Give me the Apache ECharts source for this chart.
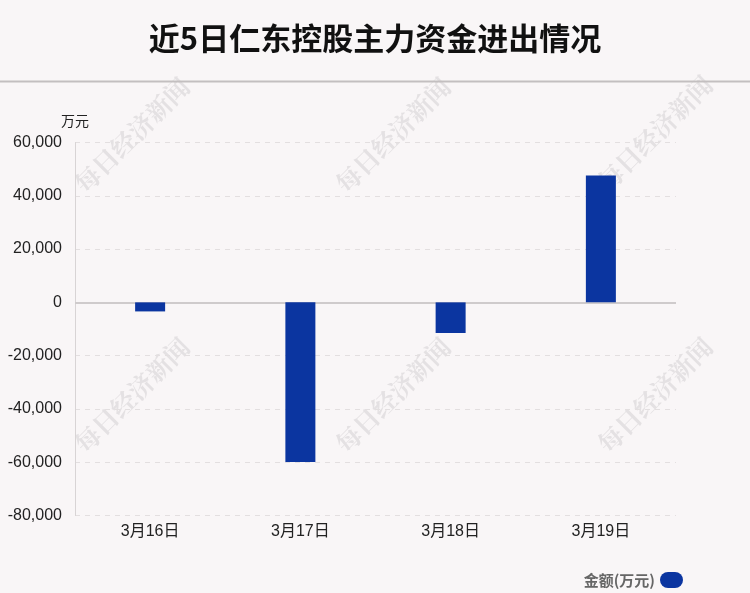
<!DOCTYPE html>
<html>
<head>
<meta charset="utf-8">
<script src="https://cdn.jsdelivr.net/npm/echarts@6/dist/echarts.min.js"></script>
<style>
html,body{margin:0;padding:0;background:#f9f6f7;}
#c{width:750px;height:593px;}
</style>
</head>
<body>
<div id="c"></div>
<script>
var titleText = '近5日仁东控股主力资金进出情况';
var categories = ['3月16日', '3月17日', '3月18日', '3月19日'];
var values = [-3400, -59900, -11500, 47600];
var seriesName = '金额(万元)';
var unitName = '万元';
var yMin = -80000, yMax = 60000, yStep = 20000;
var watermark = '每日经济新闻';

var chart = echarts.init(document.getElementById('c'), null, {renderer: 'canvas'});
var wmPos = [[132, 135], [393, 135], [655, 133], [132, 395], [393, 395], [655, 395]];
var graphics = wmPos.map(function (p) {
  return {
    type: 'text', x: p[0], y: p[1], rotation: Math.PI / 4, z: 0, silent: true,
    style: {
      text: watermark, fill: 'rgba(190,186,188,0.35)',
      font: 'bold 25px "Noto Serif CJK SC", "Noto Sans CJK SC"', textAlign: 'center', textVerticalAlign: 'middle'
    }
  };
});
graphics.push({
  type: 'line', z: 1, silent: true,
  shape: {x1: 0, y1: 81.5, x2: 750, y2: 81.5},
  style: {stroke: '#c3bfc0', lineWidth: 2}
});

chart.setOption({
  backgroundColor: '#f9f6f7',
  animation: false,
  title: {
    text: titleText, left: 'center', top: 18,
    textStyle: {fontSize: 31, fontWeight: 'bold', color: '#111', fontFamily: '"Noto Sans CJK SC", sans-serif'}
  },
  graphic: graphics,
  legend: {
    data: [seriesName], right: 62, top: 567, align: 'right',
    itemWidth: 23, itemHeight: 16,
    icon: 'path://M8,0 H15 A8,8 0 0 1 15,16 H8 A8,8 0 0 1 8,0 Z',
    textStyle: {fontSize: 15, fontWeight: 'bold', color: '#666', fontFamily: '"Noto Sans CJK SC", sans-serif'}
  },
  grid: {left: 75, right: 74, top: 142.5, bottom: 77.5, containLabel: false},
  xAxis: {
    type: 'category', data: categories,
    axisLine: {show: false}, axisTick: {show: false},
    axisLabel: {fontSize: 16, color: '#222', margin: 8, fontFamily: 'Liberation Sans, "Noto Sans CJK SC", sans-serif'}
  },
  yAxis: {
    type: 'value', min: yMin, max: yMax, interval: yStep,
    name: unitName, nameGap: 15,
    nameTextStyle: {fontSize: 14, color: '#222', align: 'center', fontFamily: '"Noto Sans CJK SC", sans-serif'},
    axisLine: {show: true, lineStyle: {color: '#d8d4d5', width: 1}},
    axisTick: {show: false},
    axisLabel: {
      fontSize: 16, color: '#222', margin: 13, fontFamily: 'Liberation Sans, sans-serif',
      formatter: function (v) { return v.toLocaleString('en-US'); }
    },
    splitLine: {show: true, lineStyle: {color: '#e3dfe0', type: [5, 5], width: 1}}
  },
  series: [{
    name: seriesName, type: 'bar', data: values, barWidth: 30,
    itemStyle: {color: '#0b35a0'},
    markLine: {
      silent: true, symbol: 'none', label: {show: false},
      lineStyle: {color: '#cfcbcc', type: 'solid', width: 2},
      data: [{yAxis: 0}], z: 1
    }
  }]
});
</script>
</body>
</html>
